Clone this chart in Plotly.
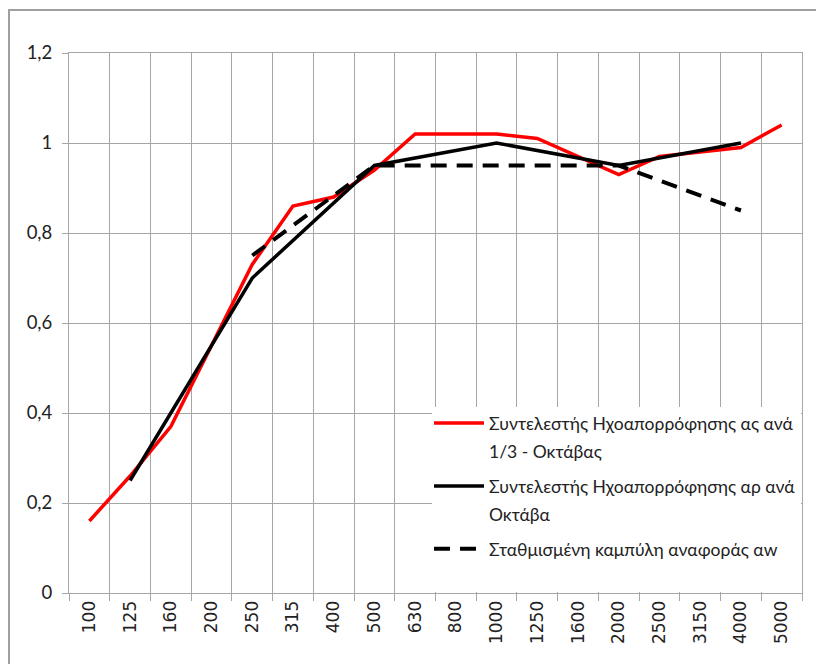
import plotly.graph_objects as go

freqs = ["100", "125", "160", "200", "250", "315", "400", "500", "630", "800",
         "1000", "1250", "1600", "2000", "2500", "3150", "4000", "5000"]
alpha_s = [0.16, 0.26, 0.37, 0.55, 0.73, 0.86, 0.88, 0.94, 1.02, 1.02,
           1.02, 1.01, 0.97, 0.93, 0.97, 0.98, 0.99, 1.04]
oct_freqs = ["125", "250", "500", "1000", "2000", "4000"]
alpha_p = [0.25, 0.70, 0.95, 1.00, 0.95, 1.00]
ref_freqs = ["250", "500", "1000", "2000", "4000"]
alpha_w = [0.75, 0.95, 0.95, 0.95, 0.85]
y_ticks = [0, 0.2, 0.4, 0.6, 0.8, 1.0, 1.2]
y_tick_text = ["0", "0,2", "0,4", "0,6", "0,8", "1", "1,2"]

names = ["Συντελεστής Ηχοαπορρόφησης ας ανά", "1/3 - Οκτάβας",
         "Συντελεστής Ηχοαπορρόφησης αρ ανά", "Οκτάβα",
         "Σταθμισμένη καμπύλη αναφοράς αw"]


def lbl(s):
    return '<span style="font-size:17.5px">' + s + '</span>'


fig = go.Figure()
fig.add_trace(go.Scatter(x=freqs, y=alpha_s, mode="lines", name=lbl(names[0]),
                         legendgroup="a",
                         line=dict(color="#ff0000", width=3.5)))
# continuation line of the first legend label
fig.add_trace(go.Scatter(x=[None], y=[None], mode="lines", name=lbl(names[1]),
                         legendgroup="a", hoverinfo="skip",
                         line=dict(color="rgba(0,0,0,0)", width=0)))
fig.add_trace(go.Scatter(x=oct_freqs, y=alpha_p, mode="lines", name=lbl(names[2]),
                         legendgroup="b",
                         line=dict(color="#000000", width=3.5)))
fig.add_trace(go.Scatter(x=[None], y=[None], mode="lines", name=lbl(names[3]),
                         legendgroup="b", hoverinfo="skip",
                         line=dict(color="rgba(0,0,0,0)", width=0)))
fig.add_trace(go.Scatter(x=ref_freqs, y=alpha_w, mode="lines", name=lbl(names[4]),
                         legendgroup="c",
                         line=dict(color="#000000", width=4, dash="16px,10px")))

grid = "#a6a6a6"
# page has an 8px body margin; figure drawn from (8, 8)
OFF = 8
W, H = 824 - OFF, 664 - OFF
PL, PR, PT, PB = 69, 802, 53, 593  # plot area in page pixels
L, T = PL - OFF, PT - OFF
R, B = W - (PR - OFF), H - (PB - OFF)
PW, PH = PR - PL, PB - PT


def px_x(x):
    return (x - PL) / PW


def px_y(y):
    return (PB - y) / PH


fig.update_layout(
    width=W, height=H,
    margin=dict(l=L, r=R, t=T, b=B, autoexpand=False),
    plot_bgcolor="white", paper_bgcolor="white",
    font=dict(family="Lato", size=16, color="#222"),
    showlegend=True,
    legend=dict(x=px_x(429), y=px_y(404), xanchor="left", yanchor="top",
                bgcolor="rgba(0,0,0,0)", font=dict(family="Lato", size=19.2, color="#222"),
                tracegroupgap=7, itemwidth=50, traceorder="grouped"),
    xaxis=dict(type="category", categoryorder="array", categoryarray=freqs,
               tickson="boundaries", ticks="outside", ticklen=7, tickcolor=grid,
               showgrid=True, gridcolor=grid, gridwidth=1, automargin=False,
               showline=True, linecolor=grid, linewidth=1, mirror=True,
               tickangle=-90, tickfont=dict(family="DejaVu Sans", size=17, color="#222"),
               range=[-0.5, 17.5]),
    yaxis=dict(range=[0, 1.2], tickvals=y_ticks, ticktext=y_tick_text,
               ticks="outside", ticklen=6, tickcolor=grid, automargin=False,
               ticklabelstandoff=6,
               showgrid=True, gridcolor=grid, gridwidth=1, zeroline=False,
               showline=True, linecolor=grid, linewidth=1, mirror=True,
               tickfont=dict(family="Lato", size=18.5, color="#222")),
    shapes=[
        dict(type="rect", xref="paper", yref="paper",
             x0=px_x(9), x1=px_x(860), y0=px_y(720), y1=px_y(10),
             line=dict(color="#a0a0a0", width=2), layer="below"),
        dict(type="rect", xref="paper", yref="paper",
             x0=px_x(432), x1=px_x(801), y0=px_y(592), y1=px_y(407),
             fillcolor="white", line=dict(width=0), layer="above"),
    ],
)
fig.write_html("out.html")
